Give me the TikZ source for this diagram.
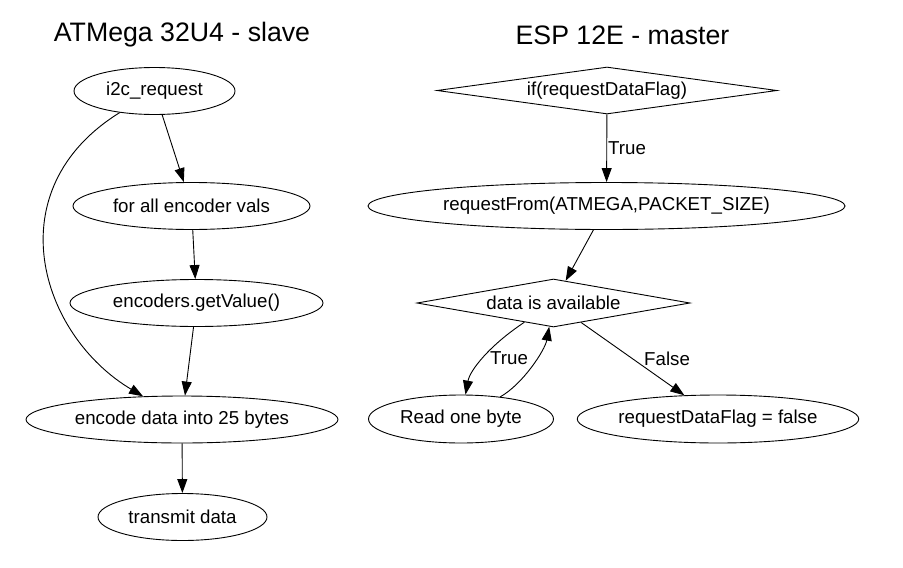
\documentclass[tikz,border=0pt]{standalone}
\usepackage{fontspec}
\setmainfont{Liberation Sans}
\usepackage{tikz}
\usetikzlibrary{arrows.meta}
\usetikzlibrary{shapes.geometric}
\begin{document}
\begin{tikzpicture}[>={Triangle[length=14pt,width=10pt]},x=1pt,y=-1pt,line width=0.9pt,
	oval/.style={ellipse,draw,inner sep=0pt,minimum height=47pt,font=\fontsize{18.7}{22}\selectfont},
	test/.style={diamond,draw,inner sep=0pt,minimum height=47pt,shape aspect=6,font=\fontsize{18.7}{22}\selectfont},
	heading/.style={font=\fontsize{26.7}{30}\selectfont},
	lbl/.style={font=\fontsize{18.7}{22}\selectfont,inner sep=1pt}]
			\useasboundingbox(0,0)rectangle(903,568);
			\node[heading](slave)at(182,35){ATMega 32U4 - slave};
			\node[heading](master)at(622.5,35){ESP 12E - master};
			\node[oval,minimum width=161pt](i2c)at(154.5,91){i2c\_request};
			\node[oval,minimum width=237pt](forall)at(191.5,206){for all encoder vals};
			\node[oval,minimum width=253pt](getval)at(196.5,303){encoders.getValue()};
			\node[oval,minimum width=312pt](encode)at(182,419.5){encode data into 25 bytes};
			\node[oval,minimum width=169pt](transmit)at(182.5,517){transmit data};
			\node[test,minimum width=340pt](flag)at(607,90.5){if(requestDataFlag)};
			\node[oval,minimum width=477pt](reqfrom)at(606.5,206){requestFrom(ATMEGA,PACKET\_SIZE)};
			\node[test,minimum width=273pt,minimum height=48pt](avail)at(553.5,303){data is available};
			\node[oval,minimum width=185pt,minimum height=48pt](readbyte)at(461,419){Read one byte};
			\node[oval,minimum width=281pt,minimum height=48pt](flagfalse)at(718,419){requestDataFlag = false};
			\draw[->](i2c)edge(forall);
			\draw[->](forall)edge(getval);
			\draw[->](getval)edge(encode);
			\draw[->](encode)edge(transmit);
			\draw[->](i2c) .. controls (-5,190) and (40,335) .. (encode);
			\draw[->](flag)edge node[lbl,right]{True}(reqfrom);
			\draw[->](reqfrom)edge(avail);
			\draw[->](avail)edge node[lbl,right,xshift=10pt]{False}(flagfalse);
			\draw[->](avail) .. controls (490,345) and (470,370) .. (readbyte) node[lbl,pos=0.5,right,xshift=5pt]{True};
			\draw[->](readbyte) .. controls (523,384) and (545,350) .. (avail);
		\end{tikzpicture}
\end{document}
